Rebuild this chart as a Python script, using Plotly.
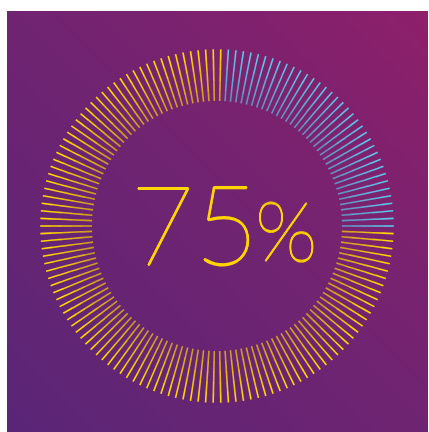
import numpy as np
import plotly.graph_objects as go

# ---- data ----
value_pct = 75
n_ticks = 146
label_number = "75"
label_symbol = "%"

# ---- geometry / style ----
W, H = 429, 432
L, T = 7, 11
PW, PH = W - L - 1, H - T
cx, cy = 210.0, 215.0          # centre in plot units (x right, y down)
r_in, r_out = 125.0, 176.5
yellow = (255, 214, 0)
blue = (92, 198, 232)

delta = 360.0 / n_ticks
angles = delta / 2 + delta * np.arange(n_ticks)   # clockwise from 12 o'clock
n_empty = round(n_ticks * (100 - value_pct) / 100)
is_empty = (np.arange(n_ticks) >= 1) & (np.arange(n_ticks) <= n_empty)

fig = go.Figure()

# background gradient
gx = np.linspace(0, PW, 30)
gy = np.linspace(0, PH, 30)
GX, GY = np.meshgrid(gx, gy)
Z = (GX + (PH - GY)) / (PW + PH)
fig.add_trace(go.Heatmap(x=gx, y=gy, z=Z, zsmooth="best", showscale=False,
                         hoverinfo="skip", zmin=0, zmax=1,
                         colorscale=[[0, "#5A2577"], [0.5, "#6F2471"], [1, "#8E1F6B"]]))

# ticks, drawn in segments fading slightly toward the centre
n_seg = 5
alphas = np.linspace(0.68, 1.0, n_seg)
for color, mask in ((yellow, ~is_empty), (blue, is_empty)):
    th = np.deg2rad(angles[mask])
    for s in range(n_seg):
        ra = r_in + (r_out - r_in) * s / n_seg
        rb = r_in + (r_out - r_in) * (s + 1) / n_seg + 0.3
        xs, ys = [], []
        for t in th:
            xs += [cx + ra * np.sin(t), cx + rb * np.sin(t), None]
            ys += [cy - ra * np.cos(t), cy - rb * np.cos(t), None]
        fig.add_trace(go.Scatter(x=xs, y=ys, mode="lines", hoverinfo="skip",
                                 line=dict(color=f"rgba({color[0]},{color[1]},{color[2]},{alphas[s]:.2f})",
                                           width=1.6)))

shadow = ("0.6px 0 0 #FFD500, -0.6px 0 0 #FFD500, 0 0.6px 0 #FFD500, "
          "0 -0.6px 0 #FFD500")
fig.add_annotation(x=187, y=211, text=label_number, showarrow=False,
                   xanchor="center", yanchor="middle",
                   font=dict(family="Lato", size=111, color="#FFD500", weight=200,
                             shadow=shadow))
fig.add_annotation(x=279, y=218, text=label_symbol, showarrow=False,
                   xanchor="center", yanchor="middle",
                   font=dict(family="Lato", size=82, color="#FFD500", weight=200,
                             shadow=shadow))

fig.update_layout(width=W, height=H, margin=dict(l=L, r=1, t=T, b=0),
                  paper_bgcolor="white", plot_bgcolor="#6F2471", showlegend=False,
                  xaxis=dict(range=[0, PW], visible=False, fixedrange=True),
                  yaxis=dict(range=[PH, 0], visible=False, fixedrange=True))

fig.write_html("out.html", config={"displayModeBar": False})
